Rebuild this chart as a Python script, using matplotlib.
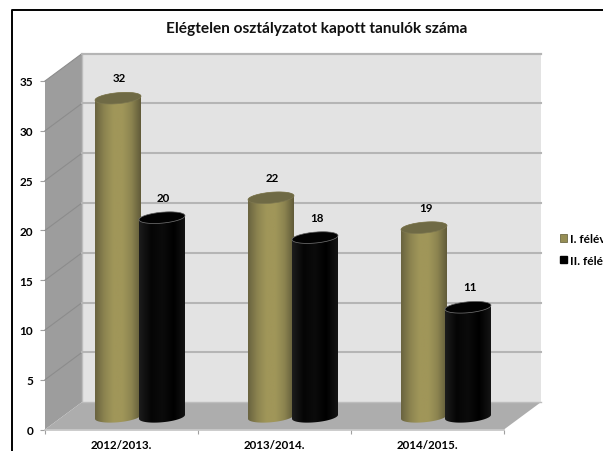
import numpy as np
import matplotlib
matplotlib.use('Agg')
import matplotlib.pyplot as plt
from matplotlib.colors import LinearSegmentedColormap
from matplotlib.patches import Polygon, Patch

categories = ['2012/2013.', '2013/2014.', '2014/2015.']
felev_1 = [32, 22, 19]
felev_2 = [20, 18, 11]
series_names = ['I. félév', 'II. félév']
y_ticks = [0, 5, 10, 15, 20, 25, 30, 35]
title = 'Elégtelen osztályzatot kapott tanulók száma'

plt.rcParams['font.family'] = ['Lato', 'DejaVu Sans']
plt.rcParams['font.weight'] = 'bold'

W, H = 603, 452
fig = plt.figure(figsize=(W / 100, H / 100), dpi=100)
# axes box = front face of the 3d box, in pixels
ax = fig.add_axes([45 / W, (H - 430.5) / H, 459 / W, 348.5 / H])
ax.set_xlim(0, 3)
ax.set_ylim(0, 35)
ax.patch.set_visible(False)

# depth of the fake 3d box in data units
dx = 37 / 153
dy = 2.75

# walls and floor
wall_back = '#e3e3e3'
ax.add_patch(Polygon([(dx, dy), (3 + dx, dy), (3 + dx, 35 + dy), (dx, 35 + dy)], fc=wall_back, ec='none', zorder=1, clip_on=False))
ax.add_patch(Polygon([(0, 0), (dx, dy), (dx, 35 + dy), (0, 35)], fc='#9d9d9d', ec='none', zorder=1, clip_on=False))
ax.add_patch(Polygon([(0, 0), (3, 0), (3 + dx, dy), (dx, dy)], fc='#adadad', ec='none', zorder=1.5, clip_on=False))
ax.plot([dx, dx, 3 + dx], [35 + dy, dy, dy], color='#bdbdbd', lw=1, zorder=1.6, clip_on=False)
ax.plot([dx, 3 + dx], [35 + dy, 35 + dy], color='#b5b5b5', lw=1.5, zorder=1.6, clip_on=False)

# gridlines on side wall and back wall
for v in y_ticks[1:]:
    ax.plot([0, dx], [v, v + dy], color='#8c8c8c', lw=0.8, zorder=1.7, clip_on=False)
    ax.plot([dx, 3 + dx], [v + dy, v + dy], color='#b5b5b5', lw=1.5, zorder=1.7, clip_on=False)

gold_cmap = LinearSegmentedColormap.from_list('gold', ['#6a6440', '#8c8450', '#a09659', '#a09659', '#8c8450', '#625c3a'])
black_cmap = LinearSegmentedColormap.from_list('blk', ['#1c1c1c', '#050505', '#0b0b0b', '#000000', '#141414'])


def ring(cx, cy, a, b, k, t):
    return np.column_stack([cx + a * np.cos(t), cy + b * np.sin(t) + k * np.cos(t)])


# one cylinder, base sits half way into the depth of the box
def cylinder(cx, value, cmap, top_color, edge, z):
    a = 23 / 153
    b = 0.55
    k = 0.2
    base = dy / 2 - 0.1
    top = base + value
    lower = ring(cx, base, a, b, k, np.linspace(np.pi, 2 * np.pi, 40))
    upper = ring(cx, top, a, b, k, np.linspace(0, np.pi, 40))
    body = Polygon(np.vstack([lower, upper]), fc='none', ec='none', transform=ax.transData, clip_on=False)
    ax.add_patch(body)
    grad = np.linspace(0, 1, 64).reshape(1, -1)
    im = ax.imshow(grad, cmap=cmap, extent=[cx - a, cx + a, base - 2, top + 2], aspect='auto', zorder=z, interpolation='bilinear')
    im.set_clip_path(body)
    lid = ring(cx, top, a, b, k, np.linspace(0, 2 * np.pi, 80))
    ax.add_patch(Polygon(lid, fc=top_color, ec=edge, lw=0.5, zorder=z + 0.1, clip_on=False))


label_lift = 1.5
half = 22 / 153
for i in range(len(categories)):
    center = i + 0.5 + dx / 2
    base_top = dy / 2 - 0.1
    cylinder(center - half, felev_1[i], gold_cmap, '#6f6a45', '#7d7750', 3 + i)
    cylinder(center + half, felev_2[i], black_cmap, '#020202', '#777777', 3.5 + i)
    ax.text(center - half + 0.01, base_top + felev_1[i] + label_lift, str(felev_1[i]), ha='center', va='bottom', fontsize=8.3, zorder=10)
    ax.text(center + half + 0.01, base_top + felev_2[i] + label_lift, str(felev_2[i]), ha='center', va='bottom', fontsize=8.3, zorder=10)

ax.set_xlim(0, 3)
ax.set_ylim(0, 35)

# axes
ax.set_yticks(y_ticks)
ax.set_yticklabels([str(v) for v in y_ticks], fontsize=8.5)
ax.set_xticks([0.5, 1.5, 2.5])
ax.set_xticklabels(categories, fontsize=8.3)
ax.set_xticks([0, 1, 2, 3], minor=True)
ax.tick_params(axis='x', which='major', length=0, pad=7)
ax.tick_params(axis='x', which='minor', length=3, color='#a0a0a0', width=0.8)
ax.tick_params(axis='y', length=3.5, color='#a0a0a0', width=0.8, pad=5)
for s in ['top', 'right', 'left']:
    ax.spines[s].set_visible(False)
ax.spines['bottom'].set_color('#c4c4c4')
ax.spines['bottom'].set_linewidth(1.2)

fig.text(317 / W, 1 - 29 / H, title, ha='center', va='center', fontsize=11.1, color='#111111')

handles = [Patch(fc='#968e55', ec='#6f6a45', lw=0.6), Patch(fc='#000000', ec='#000000')]
fig.legend(handles, series_names, loc='center left', bbox_to_anchor=(556 / W, 1 - 250.5 / H), frameon=False, fontsize=8.6,
           handlelength=0.6, handleheight=0.6, handletextpad=0.3, labelspacing=0.85, borderpad=0.3, borderaxespad=0)

# black chart border, runs off the picture on the right and at the bottom
fig.add_artist(plt.Line2D([11.5 / W, 11.5 / W, 1], [0, 1 - 10.5 / H, 1 - 10.5 / H], color='black', lw=1.4, transform=fig.transFigure))

fig.savefig('out.png', dpi=100)
